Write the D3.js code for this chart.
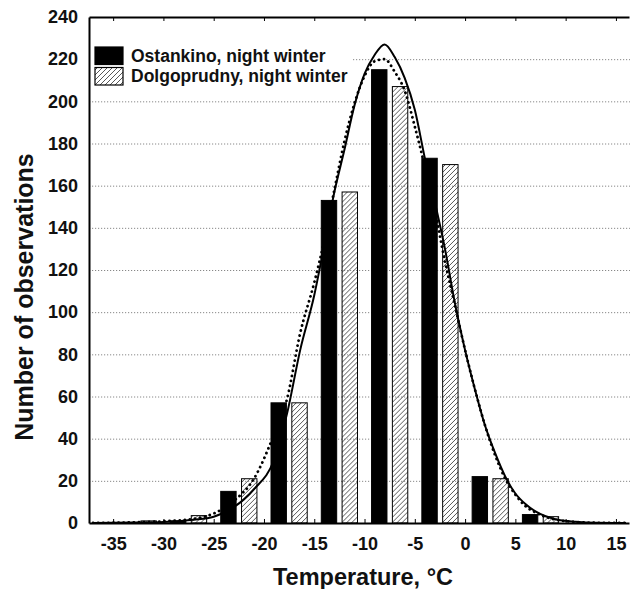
<!DOCTYPE html>
<html>
<head>
<meta charset="utf-8">
<script src="https://cdn.jsdelivr.net/npm/d3@7"></script>
<style>
    body { margin: 0; background: #fff; }
    text { font-family: "Liberation Sans", Arial, sans-serif; font-weight: bold; fill: #111; }
</style>
</head>
<body>
<script>
// bins are 5 degrees wide, centred on these temperatures
var binCenters = [-32.5, -27.5, -22.5, -17.5, -12.5, -7.5, -2.5, 2.5, 7.5, 12.5];
var ostankino = [0, 1, 15, 57, 153, 215, 173, 22, 4, 0];
var dolgoprudny = [1, 3.5, 21, 57, 157, 207, 170, 21, 3, 0];
var seriesNames = ['Ostankino, night winter', 'Dolgoprudny, night winter'];

// fitted curves
var fitTemps = [-37, -33, -30, -27, -25, -23, -21, -19, -17.7, -16.4, -15, -14, -13, -12, -11, -10, -9, -8, -7, -6,
    -5, -4, -3, -2, -1, 0, 1, 2, 3, 4, 5, 6, 7, 9, 11, 13, 16];
var ostankinoFit = [0, 0.2, 0.5, 1.5, 3, 7.5, 16, 30, 52, 82, 108, 132, 157, 177, 198, 213, 222, 227, 221, 211,
    196, 173, 152, 130, 104, 82, 63, 46, 33, 22, 14, 9, 5.5, 1.8, 0.6, 0.1, 0];
var dolgoprudnyFit = [0, 0.3, 0.8, 2, 4.5, 10.5, 21, 42, 59, 90, 114, 134, 158, 181, 199, 212, 219, 220, 214, 205,
    188, 169, 148, 124, 103, 82, 63, 46, 32, 21, 13.5, 8, 5, 1.6, 0.5, 0.1, 0];

var xTicks = [-35, -30, -25, -20, -15, -10, -5, 0, 5, 10, 15];
var yTicks = [0, 20, 40, 60, 80, 100, 120, 140, 160, 180, 200, 220, 240];

var W = 630, H = 589;
var pLeft = 89, pTop = 17, pBottom = 523, pRight = 632;

var svg = d3.select('body').append('svg').attr('width', W).attr('height', H);

var x = d3.scaleLinear().domain([-37.4, 16.3]).range([pLeft, 629]);
var y = d3.scaleLinear().domain([0, 240]).range([pBottom, pTop]);

var defs = svg.append('defs');
defs.append('pattern').attr('id', 'hatch').attr('patternUnits', 'userSpaceOnUse')
    .attr('width', 5).attr('height', 5)
    .append('path').attr('d', 'M-1,1 l2,-2 M0,5 l5,-5 M4,6 l2,-2')
    .attr('stroke', '#444').attr('stroke-width', 0.9);
defs.append('clipPath').attr('id', 'plot')
    .append('rect').attr('x', pLeft).attr('y', pTop).attr('width', pRight - pLeft).attr('height', pBottom - pTop);

// dotted grid
svg.append('g').attr('transform', 'translate(' + pLeft + ',0)')
    .call(d3.axisLeft(y).tickValues(yTicks.slice(1, -1)).tickSize(-(pRight - pLeft)).tickFormat(''))
    .call(function(g) {
        g.select('.domain').remove();
        g.selectAll('line').attr('stroke', '#888').attr('stroke-dasharray', '1.2,1.8');
    });

// bars: two series side by side inside each 5-degree bin
var band = d3.scaleBand().domain([0, 1]).range([x(-1.8) - x(0), x(1.8) - x(0)]).paddingInner(0.26);
var rows = binCenters.map(function(c, i) { return { c: c, v: [ostankino[i], dolgoprudny[i]] }; });
var groups = svg.append('g').selectAll('g').data(rows).enter().append('g')
    .attr('transform', function(d) { return 'translate(' + x(d.c) + ',0)'; });
groups.selectAll('rect').data(function(d) { return d.v; }).enter().append('rect')
    .attr('x', function(d, i) { return band(i); })
    .attr('width', band.bandwidth())
    .attr('y', function(d) { return y(d); })
    .attr('height', function(d) { return pBottom - y(d); })
    .attr('fill', function(d, i) { return i === 0 ? '#000' : 'url(#hatch)'; })
    .attr('stroke', '#000').attr('stroke-width', 1)
    .style('display', function(d) { return d > 0 ? null : 'none'; });

// fitted curves
var line = d3.line()
    .x(function(d) { return x(d[0]); })
    .y(function(d) { return y(d[1]); })
    .curve(d3.curveMonotoneX);
var curves = svg.append('g').attr('clip-path', 'url(#plot)');
curves.append('path').datum(fitTemps.map(function(t, i) { return [t, dolgoprudnyFit[i]]; }))
    .attr('d', line).attr('fill', 'none').attr('stroke', '#000')
    .attr('stroke-width', 2.8).attr('stroke-linecap', 'round').attr('stroke-dasharray', '0.1,5');
curves.append('path').datum(fitTemps.map(function(t, i) { return [t, ostankinoFit[i]]; }))
    .attr('d', line).attr('fill', 'none').attr('stroke', '#000').attr('stroke-width', 2);

// legend
var legend = svg.append('g');
legend.append('rect').attr('x', pLeft + 1).attr('y', 38).attr('width', 263).attr('height', 54).attr('fill', '#fff');
seriesNames.forEach(function(name, i) {
    legend.append('rect').attr('x', 95).attr('y', 47 + i * 20.5).attr('width', 28).attr('height', 17.5)
        .attr('fill', i === 0 ? '#000' : 'url(#hatch)').attr('stroke', '#000').attr('stroke-width', 1.2);
    legend.append('text').attr('x', 131).attr('y', 61.5 + i * 20.5).style('font-size', '17.5px').text(name);
});

// axes
svg.append('g').attr('transform', 'translate(0,' + pBottom + ')')
    .call(d3.axisBottom(x).tickValues(xTicks).tickSize(-4).tickSizeOuter(0).tickPadding(14)
        .tickFormat(function(d) { return String(d); }))
    .call(function(g) {
        g.select('.domain').attr('stroke-width', 2);
        g.selectAll('text').style('font-size', '18px').attr('fill', '#111');
    });
svg.append('g').attr('transform', 'translate(0,' + pTop + ')')
    .call(d3.axisTop(x).tickValues(xTicks).tickSize(-4).tickSizeOuter(0).tickFormat(''))
    .call(function(g) { g.select('.domain').attr('stroke-width', 2); });
svg.append('g').attr('transform', 'translate(' + pLeft + ',0)')
    .call(d3.axisLeft(y).tickValues(yTicks).tickSize(0).tickPadding(11))
    .call(function(g) {
        g.select('.domain').attr('stroke-width', 2);
        g.selectAll('text').style('font-size', '18px').attr('fill', '#111');
    });

svg.append('text').attr('x', 363).attr('y', 585).attr('text-anchor', 'middle')
    .style('font-size', '23.5px').text('Temperature, °C');
svg.append('text').attr('transform', 'translate(33,297) rotate(-90)').attr('text-anchor', 'middle')
    .style('font-size', '25px').text('Number of observations');
</script>
</body>
</html>
